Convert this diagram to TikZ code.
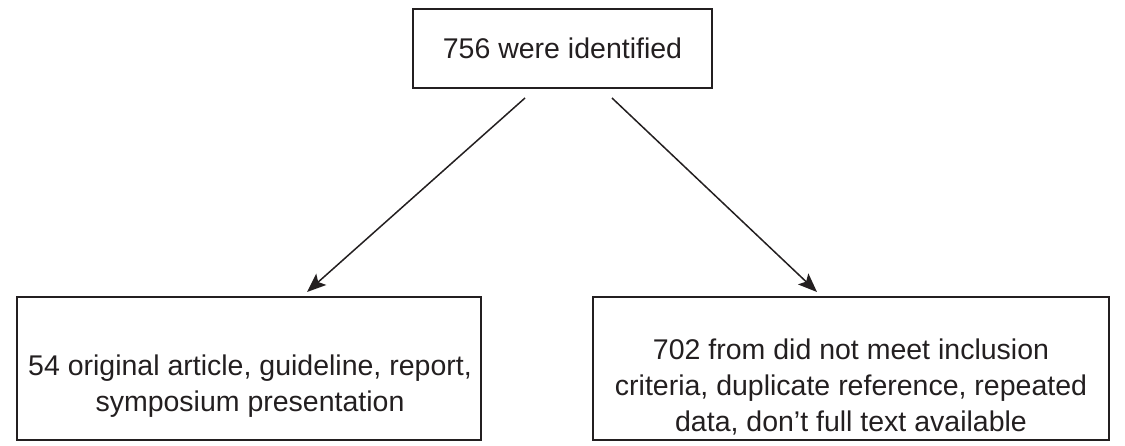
\documentclass[tikz,border=0pt]{standalone}
\usepackage{fontspec}
\setmainfont{Liberation Sans}
\usetikzlibrary{arrows.meta}
\definecolor{ink}{HTML}{231F20}
\tikzset{
  boxed/.style={draw=ink, line width=2pt, rectangle, inner sep=0pt},
  txt/.style={text=ink, font=\fontsize{28.5}{36}\selectfont, align=center, inner sep=0pt},
  arr/.style={draw=ink, line width=1.5pt, -{Stealth[length=19pt,width=15pt,inset=4pt]}}
}
\begin{document}
\begin{tikzpicture}[x=1pt,y=-1pt]
\useasboundingbox (0,0) rectangle (1125,445);
\node[boxed, txt, minimum width=299pt, minimum height=79pt] (top) at (562.5,48.5) {756 were identified};
\node[boxed, minimum width=464pt, minimum height=143pt] (left) at (249,368.5) {};
\node[boxed, minimum width=516pt, minimum height=143pt] (right) at (851,368.5) {};
\node[txt] (lefttext) at (250,386) {54 original article, guideline, report,\\symposium presentation};
\node[txt] (righttext) at (851,387) {702 from did not meet inclusion\\criteria, duplicate reference, repeated\\data, don’t full text available};
\draw[arr] ([xshift=-37.5pt,yshift=-9pt]top.south) -- ([xshift=58pt,yshift=4pt]left.north);
\draw[arr] ([xshift=49.5pt,yshift=-9pt]top.south) -- ([xshift=-34pt,yshift=4pt]right.north);
\end{tikzpicture}
\end{document}
